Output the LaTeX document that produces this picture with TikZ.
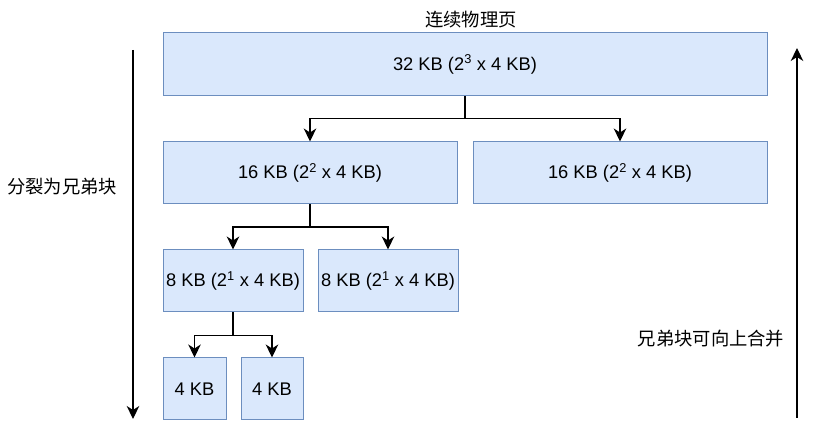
\documentclass[tikz,border=0pt]{standalone}
\usepackage{fontspec}
\setmainfont{Liberation Sans}
\newfontfamily\cjk{Noto Sans CJK SC}
\usetikzlibrary{arrows.meta}
\definecolor{boxfill}{HTML}{DAE8FC}
\definecolor{boxline}{HTML}{6C8EBF}
\tikzset{
  blk/.style={draw=boxline, fill=boxfill, line width=1pt, inner sep=0pt, font=\fontsize{18.3}{22}\selectfont},
  arr/.style={draw=black, line width=1.4pt, -{Stealth[length=13pt,width=12.5pt,inset=4pt]}},
  lbl/.style={font=\cjk\fontsize{18.3}{22}\selectfont, inner sep=0pt}
}
\begin{document}
\begin{tikzpicture}[x=1pt,y=-1pt]
\useasboundingbox (0,0) rectangle (836,427);
\node[blk, minimum width=604pt, minimum height=63pt] (top) at (465,64.5) {32 KB (2\textsuperscript{3} x 4 KB)};
\node[blk, minimum width=294pt, minimum height=62pt] (la) at (310,173) {16 KB (2\textsuperscript{2} x 4 KB)};
\node[blk, minimum width=294pt, minimum height=62pt] (lb) at (620,173) {16 KB (2\textsuperscript{2} x 4 KB)};
\node[blk, minimum width=140pt, minimum height=62pt] (ma) at (233,281) {8 KB (2\textsuperscript{1} x 4 KB)};
\node[blk, minimum width=140pt, minimum height=62pt] (mb) at (388,281) {8 KB (2\textsuperscript{1} x 4 KB)};
\node[blk, minimum width=63pt, minimum height=62pt] (sa) at (194.5,389) {4 KB};
\node[blk, minimum width=62pt, minimum height=62pt] (sb) at (272,389) {4 KB};

\draw[arr] (top.south) -- ++(0,22) -| (la.north);
\draw[arr] (top.south) -- ++(0,22) -| (lb.north);
\draw[arr] (la.south) -- ++(0,22.5) -| (ma.north);
\draw[arr] (la.south) -- ++(0,22.5) -| (mb.north);
\draw[arr] (ma.south) -- ++(0,23) -| (sa.north);
\draw[arr] (ma.south) -- ++(0,23) -| (sb.north);

\node[lbl] (title) at (471,20) {连续物理页};
\node[lbl] (split) at (62,187) {分裂为兄弟块};
\node[lbl] (merge) at (711,339) {兄弟块可向上合并};

\coordinate (dtop) at (133,50);
\coordinate (dbot) at (133,419);
\coordinate (ubot) at (797,418);
\coordinate (utop) at (797,48);
\draw[arr, line width=1.2pt] (dtop) -- (dbot);
\draw[arr, line width=1.2pt] (ubot) -- (utop);
\end{tikzpicture}
\end{document}
